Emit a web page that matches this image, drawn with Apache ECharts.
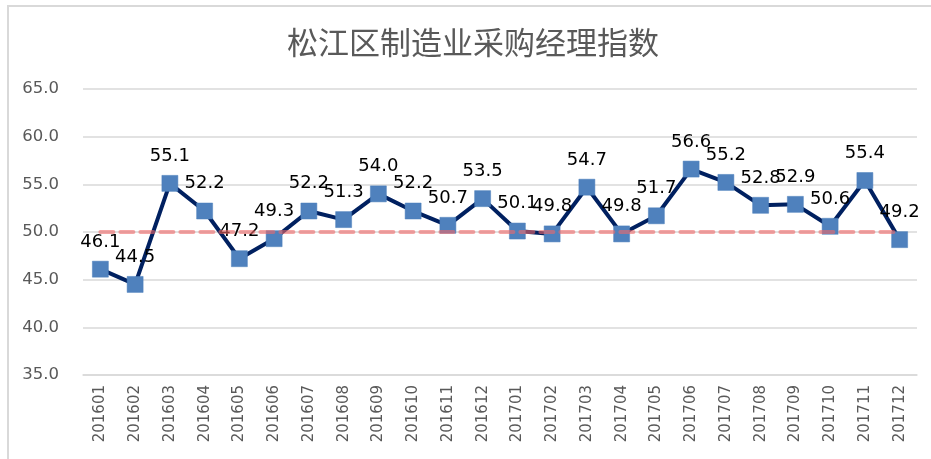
<!DOCTYPE html>
<html>
<head>
<meta charset="utf-8">
<script src="https://cdn.jsdelivr.net/npm/echarts@6/dist/echarts.min.js"></script>
<style>html,body{margin:0;padding:0;background:#fff;}#c{width:931px;height:459px;}</style>
</head>
<body>
<div id="c"></div>
<script>
var titleText = '松江区制造业采购经理指数';
var categories = ['201601','201602','201603','201604','201605','201606','201607','201608','201609','201610','201611','201612',
                  '201701','201702','201703','201704','201705','201706','201707','201708','201709','201710','201711','201712'];
var pmiValues = [46.1,44.5,55.1,52.2,47.2,49.3,52.2,51.3,54.0,52.2,50.7,53.5,
                 50.1,49.8,54.7,49.8,51.7,56.6,55.2,52.8,52.9,50.6,55.4,49.2];
var referenceValue = 50;
var yMin = 35, yMax = 65, yStep = 5;

var chart = echarts.init(document.getElementById('c'), null, {renderer:'canvas'});
chart.setOption({
  animation: false,
  backgroundColor: '#fff',
  graphic: [{
    type: 'polyline', silent: true, z: 0,
    shape: {points: [[8, 470], [8, 6], [940, 6]]},
    style: {stroke: '#d9d9d9', lineWidth: 2, fill: null}
  }],
  title: {
    text: titleText, left: 282, top: 22,
    textStyle: {fontFamily: 'Noto Sans CJK SC', fontSize: 31, fontWeight: 'normal', color: '#595959'}
  },
  grid: {left: 83, right: 14, top: 89, bottom: 84, containLabel: false, outerBoundsMode: 'none'},
  xAxis: {
    type: 'category', data: categories, boundaryGap: true,
    axisLine: {show: true, lineStyle: {color: '#d9d9d9', width: 1.5}},
    axisTick: {show: false},
    axisLabel: {rotate: 90, margin: 10, interval: 0, color: '#595959', fontSize: 15, fontFamily: 'DejaVu Sans'}
  },
  yAxis: {
    type: 'value', min: yMin, max: yMax, interval: yStep,
    axisLine: {show: false}, axisTick: {show: false},
    axisLabel: {margin: 24, color: '#595959', fontSize: 16.5, fontFamily: 'DejaVu Sans',
      formatter: function (v) { return v.toFixed(1); }},
    splitLine: {lineStyle: {color: '#d9d9d9', width: 1.5}}
  },
  series: [{
    type: 'line', data: pmiValues, z: 2,
    symbol: 'rect', symbolSize: 16,
    lineStyle: {color: '#002060', width: 4},
    itemStyle: {color: '#4F81BD', borderColor: '#4A7EBB', borderWidth: 0.5},
    label: {show: true, position: 'top', distance: 10, color: '#000', fontSize: 18, fontFamily: 'DejaVu Sans',
      formatter: function (p) { return p.value.toFixed(1); }}
  }, {
    type: 'line', data: [], z: 5,
    markLine: {
      silent: true, symbol: 'none', label: {show: false},
      lineStyle: {color: 'rgba(238,105,105,0.6)', width: 4, type: [13, 7], cap: 'round'},
      data: [[{coord: [0, referenceValue]}, {coord: [categories.length - 1, referenceValue]}]]
    }
  }]
});
</script>
</body>
</html>
